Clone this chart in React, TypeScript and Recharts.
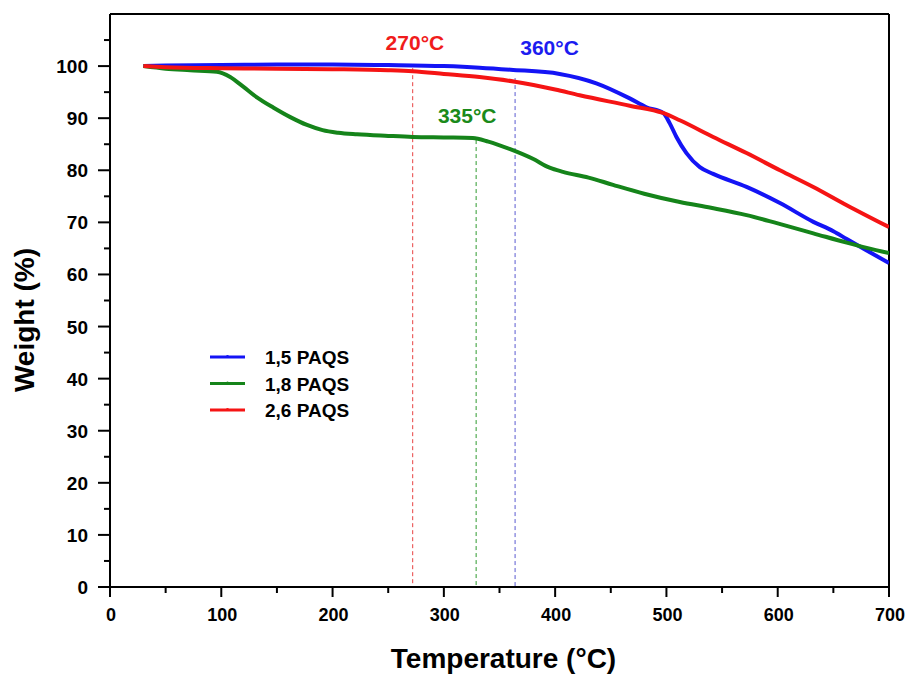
import React from 'react';
import { LineChart, Line, XAxis, YAxis, ReferenceLine, ReferenceDot, Legend } from 'recharts';

const FONT = '"Liberation Sans", Arial, Helvetica, sans-serif';

// Tick values
const xTicks = [0, 50, 100, 150, 200, 250, 300, 350, 400, 450, 500, 550, 600, 650, 700];
const yTicks = [0, 5, 10, 15, 20, 25, 30, 35, 40, 45, 50, 55, 60, 65, 70, 75, 80, 85, 90, 95, 100, 105];

// 1,5 PAQS
const pa15T = [30, 50, 100, 150, 200, 250, 300, 332, 360, 404, 437, 467, 482, 497, 503, 509, 518, 530, 542, 572, 602, 632, 650, 662, 680, 700];
const pa15W = [100, 100.1, 100.2, 100.3, 100.3, 100.2, 100, 99.7, 99.3, 98.5, 96.7, 93.8, 92.1, 91, 89, 86.4, 83.3, 80.6, 79.3, 76.8, 73.7, 70.1, 68.3, 66.8, 64.6, 62.2];

// 1,8 PAQS
const pa18T = [30, 50, 72, 96, 108, 120, 132, 147, 162, 177, 191, 205, 222, 250, 272, 300, 326, 340, 359, 380, 395, 407, 430, 452, 480, 512, 540, 572, 600, 632, 662, 680, 700];
const pa18W = [100, 99.5, 99.2, 98.9, 97.9, 96, 94, 92, 90.2, 88.7, 87.7, 87.2, 86.9, 86.6, 86.4, 86.3, 86.2, 85.5, 84.1, 82.2, 80.5, 79.7, 78.6, 77.2, 75.5, 73.9, 72.8, 71.4, 69.8, 67.9, 66.1, 65.1, 64.1];

// 2,6 PAQS
const pa26T = [30, 50, 100, 150, 200, 250, 272, 300, 332, 364, 400, 422, 467, 497, 512, 542, 572, 602, 632, 662, 700];
const pa26W = [100, 99.8, 99.6, 99.5, 99.4, 99.2, 99, 98.5, 97.9, 97, 95.5, 94.4, 92.4, 91, 89.6, 86.4, 83.3, 80, 76.8, 73.3, 69.1];

// Onset annotations
const onsetNames = ['2,6 PAQS', '1,8 PAQS', '1,5 PAQS'];
const onsetT = [272, 329, 364];
const onsetTop = [99.6, 85.8, 97.7];
const onsetText = ['270°C', '335°C', '360°C'];
const onsetTextT = [274, 321, 395];
const onsetTextW = [104.6, 90.6, 103.5];
const onsetLineColors = ['#e84040', '#2e9a2e', '#5a5ad0'];
const onsetTextColors = ['#f01c1c', '#1a8a1a', '#1c1cf0'];

const zip = (t: number[], w: number[]) => t.map((v, i) => ({ t: v, w: w[i] }));

const series = [
  { name: '1,5 PAQS', color: '#1414f5', data: zip(pa15T, pa15W) },
  { name: '1,8 PAQS', color: '#15841a', data: zip(pa18T, pa18W) },
  { name: '2,6 PAQS', color: '#f51414', data: zip(pa26T, pa26W) },
];

const XTick = (props: any) => {
  const { x, y, payload } = props;
  const v = payload.value;
  const major = v % 100 === 0;
  return (
    <g>
      <line x1={x} x2={x} y1={y} y2={y + (major ? 10 : 6)} stroke="#000" strokeWidth={2} />
      {major && (
        <text x={x + 1} y={y + 34} textAnchor="middle" fontSize={18} fontWeight="bold" fontFamily={FONT} fill="#000">
          {v}
        </text>
      )}
    </g>
  );
};

const YTick = (props: any) => {
  const { x, y, payload } = props;
  const v = payload.value;
  const major = v % 10 === 0;
  return (
    <g>
      <line x1={x} x2={x - (major ? 12 : 6)} y1={y} y2={y} stroke="#000" strokeWidth={2} />
      {major && (
        <text x={x - 22} y={y + 7} textAnchor="end" fontSize={19} fontWeight="bold" fontFamily={FONT} fill="#000">
          {v}
        </text>
      )}
    </g>
  );
};

const XTitle = (props: any) => {
  const vb = props.viewBox || { x: 110, y: 587, width: 779, height: 80 };
  return (
    <text x={vb.x + vb.width / 2 + 4} y={vb.y + 81} textAnchor="middle" fontSize={28} fontWeight="bold" fontFamily={FONT} fill="#000">
      Temperature (°C)
    </text>
  );
};

const YTitle = () => (
  <text x={34} y={320} transform="rotate(-90 34 320)" textAnchor="middle" fontSize={28} fontWeight="bold" fontFamily={FONT} fill="#000">
    Weight (%)
  </text>
);

const LegendContent = (props: any) => {
  const payload = props.payload || [];
  return (
    <svg width={200} height={90} style={{ display: 'block' }}>
      {payload.map((p: any, i: number) => {
        const cy = 17 + i * 26.5;
        return (
          <g key={i}>
            <line x1={10} x2={45} y1={cy} y2={cy} stroke={p.color} strokeWidth={3} />
            <circle cx={27.5} cy={cy - 0.5} r={1.6} fill={p.color} />
            <text x={65} y={cy + 7} fontSize={19} fontWeight="bold" fontFamily={FONT} fill="#000">
              {p.value}
            </text>
          </g>
        );
      })}
    </svg>
  );
};

export default function App() {
  return (
    <div style={{ position: 'absolute', left: 0, top: 0, width: 909, height: 675, background: '#fff' }}>
      <LineChart width={909} height={675} margin={{ top: 14, right: 20, bottom: 8, left: 30 }}>
        <XAxis
          type="number"
          dataKey="t"
          domain={[0, 700]}
          ticks={xTicks}
          interval={0}
          allowDataOverflow
          height={80}
          tickSize={0}
          tickMargin={0}
          tickLine={false}
          axisLine={{ stroke: '#000', strokeWidth: 2 }}
          tick={<XTick />}
          label={{ content: XTitle }}
        />
        <YAxis
          type="number"
          dataKey="w"
          domain={[0, 110]}
          ticks={yTicks}
          interval={0}
          allowDataOverflow
          width={80}
          tickSize={0}
          tickMargin={0}
          tickLine={false}
          axisLine={{ stroke: '#000', strokeWidth: 2 }}
          tick={<YTick />}
          label={{ content: YTitle }}
        />
        <ReferenceLine y={110} stroke="#000" strokeWidth={2} />
        <ReferenceLine x={700} stroke="#000" strokeWidth={2} />
        {onsetT.map((t, i) => (
          <ReferenceLine
            key={onsetNames[i]}
            segment={[{ x: t, y: onsetTop[i] }, { x: t, y: 0 }]}
            stroke={onsetLineColors[i]}
            strokeWidth={1}
            strokeDasharray="4 3"
          />
        ))}
        {series.map((s) => (
          <Line
            key={s.name}
            data={s.data}
            dataKey="w"
            name={s.name}
            type="monotone"
            stroke={s.color}
            strokeWidth={4}
            dot={false}
            activeDot={false}
            isAnimationActive={false}
          />
        ))}
        {onsetText.map((txt, i) => (
          <ReferenceDot
            key={txt}
            x={onsetTextT[i]}
            y={onsetTextW[i]}
            r={0}
            fill="none"
            stroke="none"
            label={{ value: txt, position: 'center', fill: onsetTextColors[i], fontSize: 21, fontWeight: 'bold', fontFamily: FONT }}
          />
        ))}
        <Legend
          layout="horizontal"
          verticalAlign="middle"
          align="center"
          content={<LegendContent />}
          wrapperStyle={{ left: 200, top: 340, width: 200, height: 90 }}
        />
      </LineChart>
    </div>
  );
}
